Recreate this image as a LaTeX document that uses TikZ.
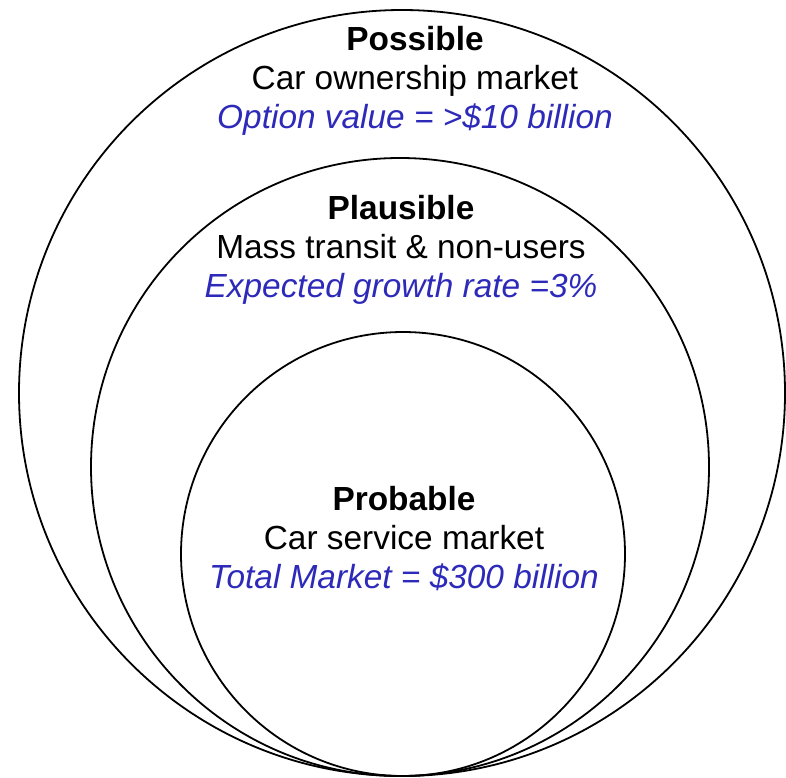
\documentclass[tikz,border=0pt]{standalone}
\usepackage{fontspec}
\setmainfont{Liberation Sans}
\usepackage{tikz}
\definecolor{optblue}{RGB}{45,42,185}

\begin{document}
\begin{tikzpicture}[
    x=0.5pt, y=-0.5pt,
    ring/.style={draw, circle, line width=0.9pt, inner sep=0pt},
    blurb/.style={align=center, inner sep=0pt, font=\fontsize{16.7}{19.5}\selectfont},
    worth/.style={text=optblue, font=\itshape}
]
\useasboundingbox (0,0) rectangle (786,777);
\node[ring, minimum size=383pt] (possible) at (402,393) {};
\node[ring, minimum size=309pt] (plausible) at (400,467) {};
\node[ring, minimum size=222pt] (probable) at (403,554) {};

\node[blurb] (possibletxt) at (415,81) {\textbf{Possible}\\Car ownership market\\\textcolor{optblue}{\itshape Option value = >\$10 billion}};
\node[blurb] (plausibletxt) at (401,250) {\textbf{Plausible}\\Mass transit \& non-users\\\textcolor{optblue}{\itshape Expected growth rate =3\%}};
\node[blurb] (probabletxt) at (404,539) {\textbf{Probable}\\Car service market\\\textcolor{optblue}{\itshape Total Market = \$300 billion}};
\end{tikzpicture}
\end{document}
